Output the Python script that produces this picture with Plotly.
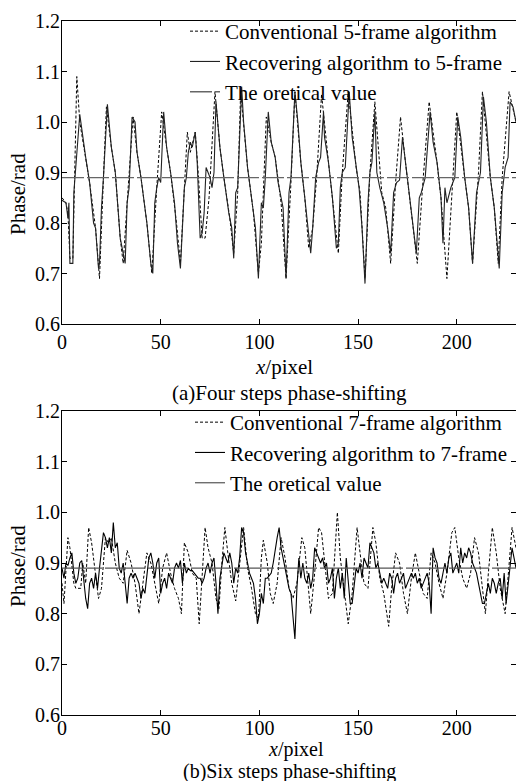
import plotly.graph_objects as go

# ---------------- (a) Four steps phase-shifting ----------------
a_conv_x = [0, 2, 3, 4, 5.5, 7.5, 9, 11, 14, 17, 19, 21, 22.5, 25, 27, 29.5, 31, 33, 36, 38, 40, 43,
            45.5, 48, 50.5, 53, 55, 58, 60, 62, 63.5, 65, 67.5, 69, 71, 72.5, 74.5, 77.5, 80, 82, 85,
            87, 89, 90.5, 94, 97, 99.5, 101, 103.5, 106, 108, 111, 113.5, 116, 118, 121, 123, 125,
            127, 129, 131.5, 135, 137, 140, 142, 145, 149, 151, 153.5, 156, 158.5, 162, 164, 166.5,
            169, 171.5, 174, 176, 178, 180, 183, 186, 190, 192, 195, 198, 200, 204, 206, 208, 211,
            213, 217, 219, 221, 223, 226.5, 230]
a_conv_y = [0.85, 0.84, 0.82, 0.73, 0.73, 1.09, 1.00, 0.95, 0.88, 0.79, 0.69, 0.89, 1.03, 0.95, 0.90,
            0.77, 0.72, 0.84, 1.01, 0.94, 0.89, 0.80, 0.70, 0.87, 1.02, 0.95, 0.90, 0.80, 0.72, 0.87,
            0.98, 0.94, 0.98, 0.90, 0.77, 0.77, 0.85, 1.06, 0.95, 0.89, 0.81, 0.74, 0.86, 1.06, 0.91,
            0.82, 0.70, 0.76, 1.01, 0.96, 0.93, 0.84, 0.69, 0.88, 1.06, 0.92, 0.85, 0.75, 0.79, 0.89,
            1.055, 0.92, 0.85, 0.74, 0.90, 1.06, 0.91, 0.86, 0.69, 0.90, 1.04, 0.86, 0.83, 0.72, 0.88,
            1.01, 0.92, 0.85, 0.79, 0.72, 0.89, 1.04, 0.92, 0.85, 0.69, 0.88, 1.02, 0.89, 0.83, 0.72,
            0.90, 1.06, 0.89, 0.83, 0.72, 0.89, 1.06, 1.00]

a_rec_x = [0, 2, 3, 3.5, 4, 5.5, 6, 7, 9, 12, 14, 16, 17, 18.5, 19, 20, 21, 23, 25, 27, 29.5, 31, 32,
           33, 34, 35.5, 37, 38, 40, 43, 45, 46, 47, 48, 49, 50, 51.5, 53, 55, 57, 58.5, 60, 61, 62,
           63, 64, 65, 66, 67.5, 68.5, 70, 71, 72, 73, 74, 75, 76, 77, 78, 80, 82, 84.5, 86, 87, 88,
           89, 91, 92, 94, 96, 97, 98, 99.5, 101, 102, 103, 104.5, 106, 108, 109.5, 111, 112, 113.5,
           115, 116, 118, 119.5, 121, 123, 125, 126, 127, 128.5, 130, 131, 132.5, 133, 135, 137, 139,
           140, 141, 142, 143.5, 145.5, 147, 149, 150.5, 152, 153.5, 155, 156, 157, 158.5, 159.5, 161,
           163, 165, 166.5, 168, 169.5, 171, 172.5, 174, 176, 178, 179.5, 181, 182, 184, 186.5, 188,
           190, 192, 193, 194, 195, 197, 199, 200.5, 202, 204, 206, 208, 210, 212, 213.5, 215, 217,
           219, 221.5, 223, 224.5, 226, 227, 228.5, 230]
a_rec_y = [0.845, 0.84, 0.81, 0.84, 0.72, 0.72, 0.86, 0.91, 1.015, 0.93, 0.88, 0.80, 0.79, 0.71, 0.72,
           0.83, 0.89, 1.035, 0.95, 0.90, 0.77, 0.74, 0.72, 0.84, 0.87, 1.01, 1.00, 0.94, 0.89, 0.80,
           0.72, 0.70, 0.84, 0.87, 0.89, 0.88, 1.02, 0.95, 0.90, 0.84, 0.76, 0.71, 0.79, 0.87, 0.89,
           0.94, 0.96, 0.95, 0.98, 0.92, 0.77, 0.78, 0.82, 0.91, 0.90, 0.89, 0.87, 0.90, 1.04, 0.95,
           0.89, 0.82, 0.79, 0.73, 0.86, 0.87, 1.07, 1.00, 0.91, 0.85, 0.81, 0.79, 0.69, 0.84, 0.83,
           0.89, 1.02, 0.96, 0.93, 0.88, 0.85, 0.83, 0.69, 0.86, 0.89, 1.06, 1.00, 0.92, 0.85, 0.77,
           0.74, 0.79, 0.89, 0.92, 0.93, 1.02, 0.97, 0.92, 0.85, 0.75, 0.76, 0.87, 0.90, 0.91, 1.06,
           0.97, 0.91, 0.87, 0.79, 0.68, 0.84, 0.90, 0.92, 1.02, 0.90, 0.87, 0.84, 0.79, 0.74, 0.86,
           0.88, 0.885, 0.97, 0.92, 0.85, 0.79, 0.74, 0.85, 0.86, 0.89, 1.02, 0.96, 0.92, 0.85, 0.76,
           0.87, 0.84, 0.87, 0.89, 1.01, 0.97, 0.89, 0.83, 0.72, 0.86, 0.90, 1.05, 1.00, 0.89, 0.83,
           0.71, 0.86, 0.91, 0.93, 1.04, 1.03, 1.00]

# ---------------- (b) Six steps phase-shifting ----------------
b_conv_x = [0, 1, 3, 4, 6, 7, 9.5, 10.5, 12, 13.5, 15, 17, 18.5, 20, 22, 23.5, 25, 27, 29, 31, 33, 35,
            37, 39, 41, 43, 45, 47, 49, 51, 53, 55, 57, 59, 60.5, 62, 64, 66, 68, 69.5, 71, 72.5, 74,
            76, 78, 79.5, 81, 82.5, 84, 86, 88, 90, 92, 94, 96, 98, 99.5, 101, 102, 104, 105.5, 107,
            109, 111, 113, 115, 117, 119, 121.5, 123, 125, 126, 128, 130, 131.5, 133, 135, 137, 139.5,
            141, 143, 145, 147, 149.5, 151, 153, 155, 157.5, 159, 161, 163, 165.5, 167, 169, 171, 173,
            175, 177, 179, 181, 183, 185, 187, 189, 191, 193, 195, 197.5, 199, 201, 203, 205, 207,
            209, 211, 213, 214.5, 216, 218, 220, 222, 224.5, 226, 228, 230]
b_conv_y = [0.86, 0.82, 0.95, 0.93, 0.86, 0.85, 0.85, 0.90, 0.86, 0.97, 0.94, 0.87, 0.83, 0.85, 0.95,
            0.94, 0.95, 0.90, 0.87, 0.86, 0.925, 0.90, 0.86, 0.80, 0.86, 0.92, 0.90, 0.86, 0.82, 0.89,
            0.92, 0.88, 0.85, 0.83, 0.80, 0.94, 0.92, 0.88, 0.87, 0.78, 0.87, 0.97, 0.93, 0.90, 0.83,
            0.81, 0.90, 0.97, 0.92, 0.86, 0.825, 0.90, 0.97, 0.89, 0.85, 0.80, 0.79, 0.91, 0.945, 0.90,
            0.84, 0.82, 0.86, 0.95, 0.91, 0.85, 0.83, 0.86, 0.95, 0.93, 0.85, 0.80, 0.88, 0.97, 0.96,
            0.90, 0.83, 0.84, 1.00, 0.91, 0.85, 0.78, 0.84, 0.97, 0.92, 0.86, 0.85, 0.97, 0.94, 0.87,
            0.84, 0.775, 0.85, 0.92, 0.90, 0.84, 0.80, 0.87, 0.92, 0.88, 0.84, 0.83, 0.92, 0.90, 0.86,
            0.83, 0.88, 0.96, 0.97, 0.91, 0.87, 0.85, 0.88, 0.95, 0.92, 0.85, 0.80, 0.88, 0.97, 0.92,
            0.85, 0.80, 0.87, 0.97, 0.93]

b_rec_x = list(range(0, 231))
b_rec_y = [0.89, 0.87, 0.90, 0.895, 0.91, 0.92, 0.88, 0.86, 0.87, 0.90, 0.905, 0.86, 0.83, 0.81, 0.86,
           0.87, 0.85, 0.88, 0.85, 0.89, 0.92, 0.96, 0.95, 0.93, 0.95, 0.92, 0.98, 0.93, 0.94, 0.89,
           0.88, 0.90, 0.86, 0.82, 0.87, 0.88, 0.87, 0.88, 0.87, 0.86, 0.83, 0.85, 0.84, 0.88, 0.91,
           0.92, 0.90, 0.87, 0.90, 0.91, 0.84, 0.86, 0.87, 0.85, 0.88, 0.87, 0.86, 0.89, 0.90, 0.89,
           0.905, 0.86, 0.90, 0.88, 0.89, 0.885, 0.885, 0.88, 0.875, 0.87, 0.87, 0.86, 0.87, 0.89, 0.90,
           0.88, 0.90, 0.91, 0.86, 0.80, 0.87, 0.90, 0.92, 0.91, 0.90, 0.92, 0.90, 0.86, 0.89, 0.88,
           0.91, 0.97, 0.96, 0.92, 0.90, 0.88, 0.87, 0.86, 0.83, 0.78, 0.80, 0.84, 0.82, 0.87, 0.87,
           0.875, 0.88, 0.90, 0.93, 0.95, 0.97, 0.93, 0.91, 0.89, 0.87, 0.85, 0.84, 0.80, 0.75, 0.85,
           0.91, 0.87, 0.90, 0.87, 0.86, 0.88, 0.85, 0.87, 0.93, 0.92, 0.91, 0.90, 0.91, 0.89, 0.90,
           0.86, 0.87, 0.89, 0.83, 0.87, 0.89, 0.85, 0.88, 0.83, 0.91, 0.86, 0.82, 0.82, 0.86, 0.89,
           0.88, 0.90, 0.87, 0.91, 0.90, 0.89, 0.94, 0.93, 0.92, 0.89, 0.90, 0.88, 0.86, 0.87, 0.86,
           0.85, 0.88, 0.87, 0.84, 0.87, 0.88, 0.86, 0.87, 0.88, 0.85, 0.86, 0.87, 0.88, 0.87, 0.88,
           0.86, 0.87, 0.85, 0.86, 0.87, 0.88, 0.86, 0.80, 0.93, 0.91, 0.90, 0.87, 0.86, 0.88, 0.90,
           0.88, 0.91, 0.92, 0.88, 0.89, 0.90, 0.88, 0.93, 0.90, 0.92, 0.91, 0.93, 0.92, 0.90, 0.89,
           0.88, 0.86, 0.84, 0.82, 0.82, 0.84, 0.86, 0.84, 0.87, 0.86, 0.84, 0.86, 0.87, 0.83, 0.88,
           0.82, 0.86, 0.89, 0.93, 0.91, 0.89]

theory_value = 0.89
x_span = [0, 230]

a_names = ["Conventional 5-frame algorithm", "Recovering algorithm to 5-frame", "The oretical value"]
b_names = ["Conventional 7-frame algorithm", "Recovering algorithm to 7-frame", "The oretical value"]
captions = ["(a)Four steps phase-shifting", "(b)Six steps phase-shifting"]
x_title = "<i>x</i>/pixel"
y_title = "Phase/rad"
x_ticks = [0, 50, 100, 150, 200]
y_ticks = [0.6, 0.7, 0.8, 0.9, 1.0, 1.1, 1.2]

FONT = "Liberation Serif"
W, H = 516, 781
L = 62
PW = W - L

def py(p):  # page pixel from top -> paper y
    return 1 - p / H

def px(p):  # page pixel from left -> paper x
    return (p - L) / PW

fig = go.Figure()

# top
fig.add_trace(go.Scatter(x=a_conv_x, y=a_conv_y, mode="lines", name=a_names[0],
                         line=dict(color="black", width=1, dash="3px,2px"),
                         xaxis="x", yaxis="y", legend="legend"))
fig.add_trace(go.Scatter(x=a_rec_x, y=a_rec_y, mode="lines", name=a_names[1],
                         line=dict(color="#222", width=1.1),
                         xaxis="x", yaxis="y", legend="legend"))
fig.add_trace(go.Scatter(x=x_span, y=[theory_value] * 2, mode="lines", name=a_names[2],
                         line=dict(color="#666", width=1.3, dash="22px,3px"),
                         xaxis="x", yaxis="y", legend="legend"))
# bottom
fig.add_trace(go.Scatter(x=b_conv_x, y=b_conv_y, mode="lines", name=b_names[0],
                         line=dict(color="black", width=1, dash="3px,2px"),
                         xaxis="x2", yaxis="y2", legend="legend2"))
fig.add_trace(go.Scatter(x=b_rec_x, y=b_rec_y, mode="lines", name=b_names[1],
                         line=dict(color="black", width=1.1),
                         xaxis="x2", yaxis="y2", legend="legend2"))
fig.add_trace(go.Scatter(x=x_span, y=[theory_value] * 2, mode="lines", name=b_names[2],
                         line=dict(color="#555", width=1.2, dash="40px,3px"),
                         xaxis="x2", yaxis="y2", legend="legend2"))

ax_common = dict(showline=True, linecolor="black", linewidth=1, mirror="ticks",
                 ticks="inside", ticklen=5, tickcolor="black", showgrid=False, zeroline=False,
                 tickfont=dict(family=FONT, size=20, color="black"))

fig.update_layout(
    width=W, height=H,
    margin=dict(l=L, r=0, t=0, b=0, autoexpand=False),
    paper_bgcolor="white", plot_bgcolor="white",
    font=dict(family=FONT, size=21, color="black"),
    xaxis=dict(domain=[0, 1], range=[0, 230], tickvals=x_ticks, anchor="y", **ax_common),
    yaxis=dict(domain=[py(324), py(21)], range=[0.6, 1.2], tickvals=y_ticks, tickformat=".1f",
               anchor="x", ticklabelstandoff=-3, **ax_common),
    xaxis2=dict(domain=[0, 1], range=[0, 230], tickvals=x_ticks, anchor="y2",
                ticklabelstandoff=-5, **ax_common),
    yaxis2=dict(domain=[py(715), py(411)], range=[0.6, 1.2], tickvals=y_ticks, tickformat=".1f",
                anchor="x2", ticklabelstandoff=-3, **ax_common),
    legend=dict(x=px(185), y=py(11), xanchor="left", yanchor="top", bgcolor="rgba(0,0,0,0)",
                font=dict(family=FONT, size=21), tracegroupgap=0, itemwidth=30),
    legend2=dict(x=px(190), y=py(402), xanchor="left", yanchor="top", bgcolor="rgba(0,0,0,0)",
                 font=dict(family=FONT, size=21), tracegroupgap=0, itemwidth=30),
    showlegend=True,
    hovermode=False,
)

def note(text, x, y, angle=0, size=21):
    return dict(text=text, x=px(x), y=py(y), xref="paper", yref="paper", xanchor="center",
                yanchor="middle", textangle=angle, showarrow=False,
                font=dict(family=FONT, size=size, color="black"))

fig.update_layout(annotations=[
    note(x_title, 284, 367),
    note(captions[0], 289, 393),
    note(x_title, 296, 749, size=20),
    note(captions[1], 289, 771, size=20),
    note(y_title, 18, 194, -90),
    note(y_title, 18, 566, -90),
])

fig.write_html("out.html",
               config={"displayModeBar": False},
               post_script="document.body.style.margin='0';document.body.style.overflow='hidden';")
